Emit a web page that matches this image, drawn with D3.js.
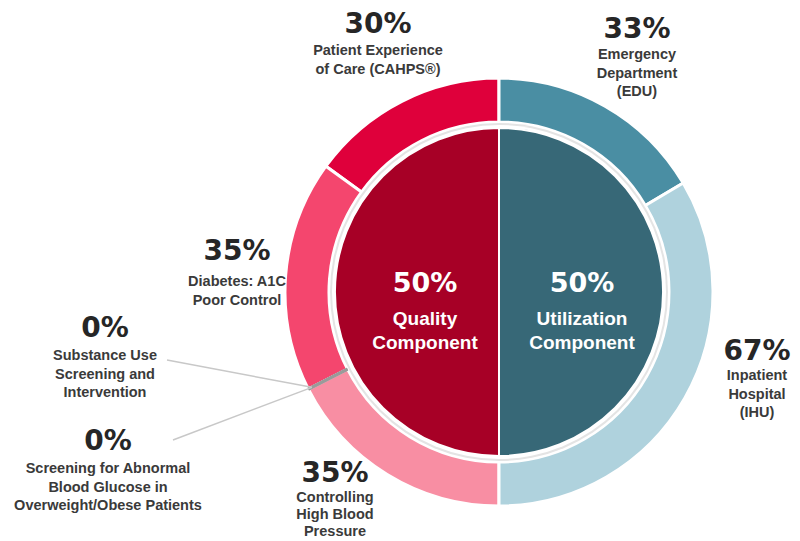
<!DOCTYPE html>
<html>
<head>
<meta charset="utf-8">
<script src="https://cdn.jsdelivr.net/npm/d3@7"></script>
<style>
  body { margin: 0; background: #fff; }
  svg { display: block; }
</style>
</head>
<body>
<div id="chart"></div>
<script>
// quality side, from 12 o'clock going counter-clockwise
var qualityNames = ["Patient Experience of Care (CAHPS®)", "Diabetes: A1C Poor Control",
    "Substance Use Screening and Intervention",
    "Screening for Abnormal Blood Glucose in Overweight/Obese Patients",
    "Controlling High Blood Pressure"];
var qualityValues = [30, 35, 0, 0, 35];
var qualityColors = ["#df003b", "#f4466e", "#9a9a9a", "#9a9a9a", "#f88ea3"];

// utilization side, from 12 o'clock going clockwise
var utilNames = ["Emergency Department (EDU)", "Inpatient Hospital (IHU)"];
var utilValues = [33, 67];
var utilColors = ["#4a8ea3", "#afd2dd"];

var componentNames = ["Quality Component", "Utilization Component"];
var componentValues = [50, 50];
var componentColors = ["#a70026", "#376877"];

// label text lines, one array per label
var labelLines = [
    ["Patient Experience", "of Care (CAHPS®)"],
    ["Diabetes: A1C", "Poor Control"],
    ["Substance Use", "Screening and", "Intervention"],
    ["Screening for Abnormal", "Blood Glucose in", "Overweight/Obese Patients"],
    ["Controlling", "High Blood", "Pressure"],
    ["Emergency", "Department", "(EDU)"],
    ["Inpatient", "Hospital", "(IHU)"]
];
var labelValues = qualityValues.concat(utilValues);

var width = 800, height = 541;
var cx = 499, cy = 292;
var rOuter = 214, rRingIn = 170, rInner = 164;

var svg = d3.select("#chart").append("svg")
    .attr("width", width).attr("height", height);

var g = svg.append("g").attr("transform", "translate(" + cx + "," + cy + ")");

var pieQ = d3.pie().sort(null).startAngle(0).endAngle(-Math.PI);
var pieU = d3.pie().sort(null).startAngle(0).endAngle(Math.PI);

var ringArc = d3.arc().innerRadius(rRingIn).outerRadius(rOuter);
var innerArc = d3.arc().innerRadius(0).outerRadius(rInner);

var qArcs = pieQ(qualityValues);
var uArcs = pieU(utilValues);

// outer ring
g.append("g").selectAll("path")
    .data(qArcs.filter(d => d.value > 0))
    .enter().append("path")
    .attr("d", ringArc)
    .attr("fill", d => qualityColors[d.index])
    .attr("stroke", "#fff")
    .attr("stroke-width", 3);

g.append("g").selectAll("path")
    .data(uArcs)
    .enter().append("path")
    .attr("d", ringArc)
    .attr("fill", d => utilColors[d.index])
    .attr("stroke", "#fff")
    .attr("stroke-width", 3);

// 0% slices shown as a grey sliver
var zeroArcs = qArcs.filter(d => d.value == 0);
g.append("g").selectAll("line")
    .data(zeroArcs)
    .enter().append("line")
    .attr("x1", d => rRingIn * Math.sin(d.startAngle))
    .attr("y1", d => -rRingIn * Math.cos(d.startAngle))
    .attr("x2", d => rOuter * Math.sin(d.startAngle))
    .attr("y2", d => -rOuter * Math.cos(d.startAngle))
    .attr("stroke", "#9a9a9a")
    .attr("stroke-width", 3);

// ring between outer and inner
g.append("circle").attr("r", rRingIn - 1).attr("fill", "#e4e4e4");
g.append("circle").attr("r", rRingIn - 3).attr("fill", "#fff");

// inner pie (components), quality on the left half, utilization on the right
var cArcs = d3.pie().sort(null).startAngle(Math.PI).endAngle(2 * Math.PI)(componentValues.slice(0, 1))
    .concat(d3.pie().sort(null).startAngle(0).endAngle(Math.PI)(componentValues.slice(1)));
g.append("g").selectAll("path")
    .data(cArcs)
    .enter().append("path")
    .attr("d", innerArc)
    .attr("fill", (d, i) => componentColors[i])
    .attr("stroke", "#fff")
    .attr("stroke-width", 2);

// centre texts
var centreX = [-74, 83];
var centreSub = [["Quality", "Component"], ["Utilization", "Component"]];
componentValues.forEach(function(v, i) {
    var t = g.append("text")
        .attr("text-anchor", "middle")
        .attr("fill", "#fff")
        .attr("font-family", "Liberation Sans, Arial, sans-serif")
        .attr("font-weight", "bold");
    t.append("tspan")
        .attr("x", centreX[i]).attr("y", 0)
        .attr("font-family", "DejaVu Sans, sans-serif")
        .attr("font-size", 27)
        .text(v + "%");
    centreSub[i].forEach(function(s, j) {
        t.append("tspan")
            .attr("x", centreX[i]).attr("y", 33 + j * 24)
            .attr("font-size", 19)
            .text(s);
    });
});

// outer labels: x of centre, y of percent baseline
var labelPos = [
    [378, 33], [237, 260], [105, 337], [108, 450], [335, 482], [637, 38], [757, 360]
];
var labelGap = [22, 26, 23, 23, 20, 21, 20];
var lineStep = [18.5, 18.5, 18.5, 18.5, 17, 18.5, 18.5];

labelLines.forEach(function(lines, i) {
    var t = svg.append("text")
        .attr("text-anchor", "middle")
        .attr("font-weight", "bold");
    t.append("tspan")
        .attr("x", labelPos[i][0]).attr("y", labelPos[i][1])
        .attr("font-family", "DejaVu Sans, sans-serif")
        .attr("font-size", 28)
        .attr("fill", "#262626")
        .text(labelValues[i] + "%");
    lines.forEach(function(s, j) {
        t.append("tspan")
            .attr("x", labelPos[i][0])
            .attr("y", labelPos[i][1] + labelGap[i] + j * lineStep[i])
            .attr("font-family", "Liberation Sans, Arial, sans-serif")
            .attr("font-size", 14.5)
            .attr("fill", "#3a3a3a")
            .text(s);
    });
});

// leader lines for the 0% slices
var leaderStart = [[167, 360], [173, 440]];
zeroArcs.forEach(function(d, i) {
    var ex = cx + (rOuter - 4) * Math.sin(d.startAngle);
    var ey = cy - (rOuter - 4) * Math.cos(d.startAngle);
    svg.append("line")
        .attr("x1", leaderStart[i][0]).attr("y1", leaderStart[i][1])
        .attr("x2", ex).attr("y2", ey)
        .attr("stroke", "#c8c8c8")
        .attr("stroke-width", 1.5);
});
</script>
</body>
</html>
